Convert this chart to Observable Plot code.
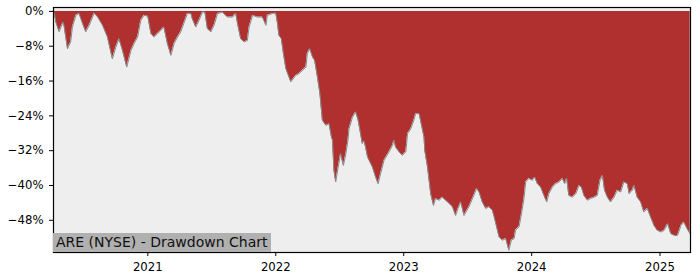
<!DOCTYPE html>
<html><head><meta charset="utf-8">
<script src="https://cdn.jsdelivr.net/npm/d3@7"></script>
<script src="https://cdn.jsdelivr.net/npm/@observablehq/plot@0.6"></script>
<style>
body{margin:0;background:#fff;font-family:"DejaVu Sans",sans-serif;}
#wrap{position:relative;width:700px;height:280px;}
#label{position:absolute;left:53px;top:233px;height:19px;padding:0 3px;background:#b0b0b0;font:14px "DejaVu Sans",sans-serif;line-height:19px;color:#111;white-space:nowrap;}
</style></head>
<body><div id="wrap"><div id="label"></div></div>
<script>
const chartLabel = "ARE (NYSE) - Drawdown Chart";
const dates = ["2020-04-07","2020-04-09","2020-04-14","2020-04-23","2020-05-04","2020-05-07","2020-05-17","2020-05-26","2020-05-31","2020-06-10","2020-06-19","2020-06-29","2020-07-08","2020-07-18","2020-08-01","2020-08-11","2020-08-25","2020-09-08","2020-09-22","2020-10-02","2020-10-11","2020-10-21","2020-11-02","2020-11-14","2020-11-23","2020-12-03","2020-12-12","2020-12-21","2021-01-01","2021-01-10","2021-01-19","2021-01-29","2021-02-07","2021-02-16","2021-02-26","2021-03-08","2021-03-17","2021-03-27","2021-04-05","2021-04-15","2021-04-24","2021-05-04","2021-05-08","2021-05-18","2021-05-27","2021-06-06","2021-06-13","2021-06-20","2021-06-30","2021-07-09","2021-07-19","2021-08-02","2021-08-16","2021-08-31","2021-09-09","2021-09-14","2021-09-23","2021-10-03","2021-10-12","2021-10-17","2021-10-27","2021-11-10","2021-11-24","2021-12-04","2021-12-08","2021-12-23","2022-01-01","2022-01-06","2022-01-10","2022-01-17","2022-01-23","2022-01-30","2022-02-13","2022-02-27","2022-03-08","2022-03-18","2022-03-28","2022-04-01","2022-04-08","2022-04-16","2022-04-22","2022-04-30","2022-05-07","2022-05-14","2022-05-24","2022-06-02","2022-06-09","2022-06-12","2022-06-16","2022-06-21","2022-06-28","2022-07-05","2022-07-13","2022-07-20","2022-07-26","2022-07-29","2022-08-08","2022-08-17","2022-08-24","2022-08-31","2022-09-05","2022-09-10","2022-09-15","2022-09-20","2022-10-04","2022-10-13","2022-10-20","2022-10-27","2022-11-06","2022-11-20","2022-11-30","2022-12-04","2022-12-09","2022-12-19","2022-12-28","2023-01-07","2023-01-12","2023-01-21","2023-01-30","2023-02-04","2023-02-14","2023-02-20","2023-02-28","2023-03-02","2023-03-10","2023-03-19","2023-03-27","2023-04-02","2023-04-12","2023-04-21","2023-05-06","2023-05-20","2023-05-29","2023-06-05","2023-06-13","2023-06-22","2023-07-06","2023-07-20","2023-07-28","2023-08-04","2023-08-13","2023-08-23","2023-09-01","2023-09-11","2023-09-16","2023-09-23","2023-09-30","2023-10-09","2023-10-19","2023-10-28","2023-11-04","2023-11-12","2023-11-16","2023-11-26","2023-12-03","2023-12-10","2023-12-15","2023-12-24","2024-01-03","2024-01-10","2024-01-17","2024-01-27","2024-02-05","2024-02-13","2024-02-19","2024-02-29","2024-03-09","2024-03-19","2024-03-29","2024-04-04","2024-04-10","2024-04-16","2024-04-26","2024-05-06","2024-05-15","2024-05-22","2024-05-29","2024-06-08","2024-06-17","2024-06-27","2024-07-06","2024-07-14","2024-07-21","2024-07-27","2024-08-04","2024-08-13","2024-08-23","2024-09-01","2024-09-11","2024-09-20","2024-09-30","2024-10-05","2024-10-14","2024-10-19","2024-10-28","2024-11-07","2024-11-16","2024-11-26","2024-12-05","2024-12-15","2024-12-24","2025-01-04","2025-01-13","2025-01-23","2025-02-01","2025-02-11","2025-02-20","2025-03-02","2025-03-10","2025-03-19","2025-03-28"];
const drawdown = [0,-0.2,-2.5,-4.7,-2.5,-3.2,-8.6,-7.0,-3.6,-0.9,-0.5,-2.8,-4.7,-3.2,-0.4,-1.3,-3.2,-5.9,-10.9,-8.2,-6.3,-9.0,-12.8,-9.0,-7.4,-5.9,-2.1,-0.9,-1.1,-5.1,-5.9,-5.1,-4.4,-3.6,-7.4,-10.1,-7.4,-5.9,-4.7,-2.5,-0.5,-0.5,-1.7,-3.6,-2.1,-0.2,-0.2,-4.0,-4.7,-3.2,-0.5,-0.2,-1.3,-1.3,-0.5,-2.8,-6.3,-7.0,-6.7,-3.6,-0.9,-1.3,-1.3,-3.2,-0.9,-0.5,-0.4,-2.8,-5.5,-6.3,-9.7,-13.2,-16.2,-14.7,-14.3,-13.6,-12.8,-9.7,-8.6,-10.5,-11.3,-15.1,-18.9,-25.0,-26.2,-25.8,-28.9,-29.6,-36.5,-39.2,-35.8,-32.7,-35.4,-32.7,-29.6,-27.0,-24.3,-23.1,-25.0,-28.1,-30.4,-29.8,-31.5,-33.5,-35.8,-38.1,-39.6,-37.3,-34.2,-32.3,-30.8,-29.6,-31.2,-32.3,-33.1,-32.3,-28.1,-27.0,-25.0,-23.5,-23.5,-25.8,-28.9,-31.9,-35.8,-41.9,-44.6,-43.0,-43.4,-42.7,-43.8,-44.9,-46.9,-45.3,-43.8,-46.9,-44.9,-42.3,-40.7,-41.5,-43.8,-45.3,-44.9,-45.7,-47.2,-49.5,-51.8,-52.6,-52.2,-54.9,-52.6,-52.2,-50.3,-49.5,-46.5,-43.0,-39.2,-38.4,-38.8,-38.1,-39.6,-40.4,-42.3,-43.8,-41.9,-40.4,-39.6,-39.2,-38.4,-39.6,-38.4,-42.3,-42.7,-41.9,-40.0,-40.4,-42.3,-43.4,-43.0,-42.7,-42.3,-38.8,-37.7,-41.1,-42.7,-43.8,-42.7,-41.1,-41.5,-39.2,-39.6,-41.9,-41.1,-40.0,-42.7,-43.8,-46.1,-45.3,-47.2,-49.2,-50.3,-50.7,-50.3,-48.8,-51.1,-51.5,-51.5,-49.2,-48.4,-49.9,-51.1];
const yTicks = [0,-8,-16,-24,-32,-40,-48];
const xTickYears = ["2021","2022","2023","2024","2025"];

const parse = d3.utcParse("%Y-%m-%d");
const data = dates.map((d,i)=>({date: parse(d), dd: drawdown[i]}));
const fmt = v => (v<0?"\u2212":"") + Math.abs(v) + "%";

const chart = Plot.plot({
  width: 700, height: 280,
  marginLeft: 53, marginRight: 10, marginTop: 7, marginBottom: 28,
  style: {fontFamily: "DejaVu Sans, sans-serif", fontSize: "11.7px", color: "#000", background: "#fff"},
  x: {type: "utc", domain: [parse("2020-04-07"), parse("2025-03-29")], ticks: xTickYears.map(y=>parse(y+"-01-01")), tickFormat: d3.utcFormat("%Y"), tickSize: 4, tickPadding: 6, label: null},
  y: {domain: [-55.4, 0.9], ticks: yTicks, tickFormat: fmt, tickSize: 4, tickPadding: 6, label: null},
  marks: [
    Plot.frame({fill: "#eeeeee", stroke: "none"}),
    Plot.areaY(data, {x: "date", y1: 0, y2: "dd", fill: "#b03030", curve: "linear"}),
    Plot.line(data, {x: "date", y: "dd", stroke: "#8a8a8a", strokeWidth: 1, curve: "linear"}),
    Plot.frame({stroke: "#000", strokeWidth: 1.2})
  ]
});
document.getElementById("wrap").prepend(chart);
document.getElementById("label").textContent = chartLabel;
</script>
</body></html>
